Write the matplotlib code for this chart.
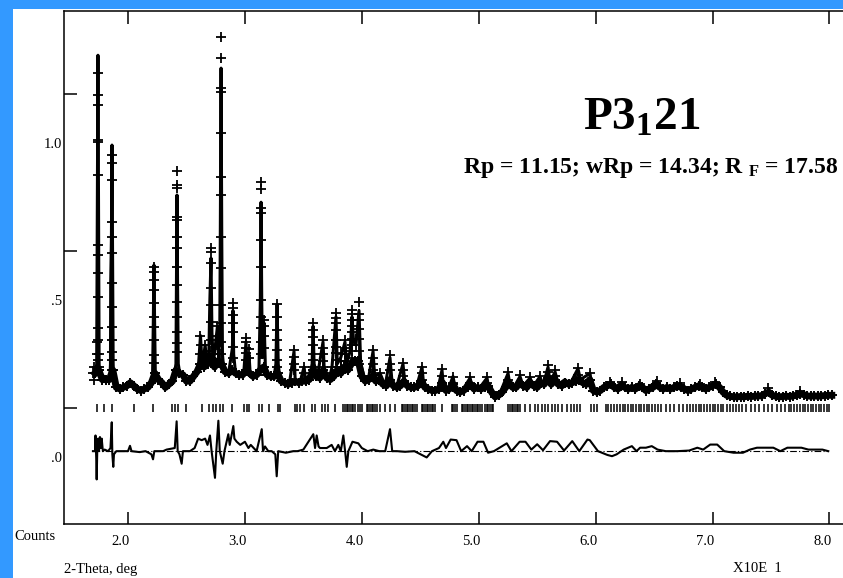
import numpy as np
import matplotlib
matplotlib.use("Agg")
import matplotlib.pyplot as plt
from matplotlib.patches import Rectangle

plt.rcParams['font.family'] = ['Liberation Serif', 'DejaVu Serif']
plt.rcParams['mathtext.fontset'] = 'custom'
# plain parts of mixed strings are drawn with mathtext.rm, the only such string is bold
plt.rcParams['mathtext.rm'] = 'Liberation Serif:bold'
plt.rcParams['mathtext.bf'] = 'Liberation Serif:bold'
plt.rcParams['mathtext.it'] = 'Liberation Serif:italic'

# observed background, one value per scan step (start 1.72, step 0.03)
scan_start, scan_step = 1.72, 0.03
bg_obs = [
    0.27, 0.28, 0.25, 0.25, 0.25, 0.28, 0.225, 0.22, 0.225, 0.23,
    0.24, 0.23, 0.22, 0.215, 0.22, 0.225, 0.24, 0.27, 0.25, 0.24,
    0.225, 0.235, 0.245, 0.28, 0.27, 0.265, 0.245, 0.245, 0.26, 0.275,
    0.30, 0.29, 0.30, 0.32, 0.29, 0.31, 0.30, 0.275, 0.27, 0.28,
    0.27, 0.265, 0.265, 0.28, 0.27, 0.26, 0.265, 0.28, 0.29, 0.265,
    0.26, 0.26, 0.27, 0.245, 0.24, 0.235, 0.24, 0.245, 0.24, 0.245,
    0.245, 0.25, 0.28, 0.26, 0.255, 0.28, 0.255, 0.25, 0.26, 0.28,
    0.27, 0.29, 0.28, 0.30, 0.31, 0.31, 0.26, 0.245, 0.25, 0.26,
    0.245, 0.25, 0.235, 0.23, 0.25, 0.23, 0.225, 0.23, 0.245, 0.23,
    0.225, 0.225, 0.23, 0.245, 0.225, 0.22, 0.215, 0.215, 0.22, 0.24,
    0.215, 0.22, 0.235, 0.215, 0.21, 0.215, 0.225, 0.235, 0.22, 0.225,
    0.22, 0.225, 0.23, 0.21, 0.195, 0.20, 0.21, 0.225, 0.24, 0.225,
    0.225, 0.24, 0.23, 0.225, 0.24, 0.23, 0.225, 0.24, 0.235, 0.255,
    0.235, 0.25, 0.235, 0.23, 0.24, 0.235, 0.24, 0.245, 0.25, 0.24,
    0.235, 0.25, 0.215, 0.21, 0.215, 0.225, 0.23, 0.235, 0.225, 0.22,
    0.23, 0.225, 0.22, 0.225, 0.22, 0.23, 0.225, 0.215, 0.22, 0.225,
    0.235, 0.225, 0.22, 0.225, 0.22, 0.225, 0.23, 0.225, 0.22, 0.215,
    0.22, 0.225, 0.23, 0.225, 0.22, 0.225, 0.23, 0.235, 0.225, 0.21,
    0.20, 0.197, 0.195, 0.195, 0.196, 0.195, 0.197, 0.196, 0.197, 0.198,
    0.198, 0.205, 0.21, 0.20, 0.197, 0.195, 0.196, 0.197, 0.196, 0.198,
    0.20, 0.205, 0.202, 0.198, 0.197, 0.198, 0.197, 0.198, 0.199, 0.20,
    0.20,
]

# observed points on the peaks
peak_obs_x = [
    1.700, 1.705, 1.710, 1.733, 1.735, 1.737,
    1.741, 1.745, 1.741, 1.745, 1.741, 1.745, 1.741, 1.745, 1.741, 1.745, 1.741, 1.745, 1.741,
    1.752, 1.755,
    1.861, 1.865, 1.861, 1.865, 1.861, 1.865, 1.861, 1.865, 1.861, 1.865, 1.861, 1.865, 1.867,
    2.220, 2.224, 2.220, 2.224, 2.220, 2.224, 2.220, 2.224, 2.220, 2.224,
    2.417, 2.421, 2.417, 2.421, 2.417, 2.421, 2.417, 2.421, 2.417, 2.421, 2.417, 2.421, 2.417, 2.421,
    2.620, 2.622, 2.618, 2.660, 2.662, 2.658,
    2.708, 2.712, 2.708, 2.712, 2.708, 2.712, 2.708, 2.712,
    2.763, 2.767, 2.763, 2.767,
    2.794, 2.798, 2.794, 2.798, 2.794, 2.798, 2.794, 2.798, 2.794, 2.798, 2.794, 2.798, 2.794,
    2.896, 2.900, 2.896, 2.900, 2.896, 2.900, 2.896,
    3.007, 3.011, 3.007, 3.011, 3.007, 3.035, 3.037,
    3.136, 3.140, 3.136, 3.140, 3.136, 3.140, 3.136, 3.140, 3.136, 3.140, 3.136,
    3.163, 3.167, 3.163, 3.167,
    3.273, 3.277, 3.273, 3.277, 3.273, 3.277, 3.273,
    3.418, 3.422, 3.418, 3.422, 3.504, 3.508,
    3.581, 3.585, 3.581, 3.585, 3.581, 3.585, 3.581,
    3.666, 3.670, 3.666, 3.670, 3.666, 3.745, 3.747,
    3.777, 3.781, 3.777, 3.781, 3.777, 3.781, 3.777, 3.781, 3.777, 3.781,
    3.820, 3.822, 3.818, 3.854, 3.858, 3.854, 3.858,
    3.914, 3.918, 3.914, 3.918, 3.914, 3.918, 3.914, 3.918, 3.914,
    3.948, 3.952,
    3.974, 3.978, 3.974, 3.978, 3.974, 3.978, 3.974,
    4.094, 4.098, 4.094, 4.098, 4.156, 4.239, 4.243, 4.239,
    4.350, 4.354, 4.350, 4.513, 4.517, 4.513, 4.684, 4.688,
    4.778, 4.782, 4.924, 4.928, 5.069, 5.073, 5.249, 5.253,
    5.353, 5.440, 5.524, 5.591, 5.595, 5.591, 5.651, 5.655,
    5.847, 5.851, 5.950, 5.954, 6.123, 6.226, 6.380, 6.525,
    6.722, 6.893, 7.021, 7.475, 7.749,
]
peak_obs_y = [
    0.27, 0.29, 0.25, 0.29, 0.33, 0.37,
    1.226, 1.156, 1.124, 1.013, 1.006, 0.901, 0.678, 0.646, 0.589, 0.513, 0.414, 0.376, 0.312,
    0.33, 0.29,
    0.965, 0.939, 0.885, 0.752, 0.704, 0.653, 0.557, 0.481, 0.417, 0.376, 0.338, 0.312, 0.28,
    0.608, 0.592, 0.567, 0.535, 0.494, 0.449, 0.417, 0.376, 0.328, 0.303,
    0.914, 0.869, 0.860, 0.768, 0.758, 0.704, 0.669, 0.608, 0.551, 0.497, 0.449, 0.401, 0.366, 0.338,
    0.39, 0.36, 0.33, 0.36, 0.33, 0.31,
    0.669, 0.656, 0.62, 0.541, 0.487, 0.433, 0.376, 0.34,
    0.42, 0.39, 0.36, 0.33,
    1.341, 1.274, 1.178, 1.166, 1.035, 0.895, 0.838, 0.704, 0.605, 0.487, 0.43, 0.37, 0.33,
    0.494, 0.478, 0.455, 0.43, 0.401, 0.354, 0.32,
    0.382, 0.369, 0.35, 0.334, 0.312, 0.347, 0.32,
    0.879, 0.857, 0.796, 0.78, 0.694, 0.608, 0.503, 0.449, 0.414, 0.37, 0.33,
    0.44, 0.42, 0.39, 0.35,
    0.49, 0.45, 0.408, 0.376, 0.344, 0.312, 0.29,
    0.344, 0.322, 0.30, 0.28, 0.29, 0.27,
    0.43, 0.408, 0.386, 0.36, 0.333, 0.312, 0.29,
    0.376, 0.35, 0.33, 0.31, 0.29, 0.29, 0.27,
    0.462, 0.446, 0.43, 0.408, 0.376, 0.354, 0.334, 0.312, 0.29, 0.271,
    0.33, 0.31, 0.29, 0.376, 0.35, 0.33, 0.31,
    0.471, 0.46, 0.44, 0.42, 0.40, 0.38, 0.36, 0.34, 0.32,
    0.38, 0.36,
    0.497, 0.46, 0.44, 0.41, 0.38, 0.34, 0.30,
    0.344, 0.32, 0.30, 0.28, 0.27, 0.328, 0.30, 0.28,
    0.303, 0.28, 0.26, 0.29, 0.27, 0.25, 0.283, 0.26,
    0.258, 0.24, 0.258, 0.24, 0.258, 0.24, 0.274, 0.25,
    0.264, 0.258, 0.26, 0.296, 0.275, 0.255, 0.28, 0.26,
    0.287, 0.265, 0.27, 0.25, 0.242, 0.242, 0.237, 0.245,
    0.238, 0.235, 0.242, 0.223, 0.213,
]

# calculated profile
calc_x = [
    1.700, 1.725, 1.732, 1.738, 1.743, 1.748, 1.753, 1.760, 1.775, 1.790, 1.800,
    1.845, 1.850, 1.852, 1.858, 1.863, 1.868, 1.873, 1.880, 1.90, 1.93, 1.96,
    1.99, 2.017, 2.04, 2.07, 2.10, 2.13, 2.16, 2.19, 2.21, 2.217, 2.222, 2.227,
    2.234, 2.25, 2.274, 2.30, 2.317, 2.34, 2.36, 2.39, 2.41, 2.414, 2.419,
    2.424, 2.43, 2.445, 2.462, 2.49, 2.513, 2.54, 2.573, 2.60, 2.62, 2.635,
    2.66, 2.675, 2.69, 2.70, 2.710, 2.718, 2.73, 2.765, 2.775, 2.785, 2.790,
    2.796, 2.802, 2.808, 2.82, 2.838, 2.86, 2.893, 2.898, 2.904, 2.92, 2.958,
    2.99, 3.009, 3.02, 3.035, 3.045, 3.08, 3.12, 3.132, 3.138, 3.144, 3.150,
    3.165, 3.175, 3.20, 3.25, 3.265, 3.275, 3.285, 3.30, 3.34, 3.38, 3.42,
    3.43, 3.47, 3.506, 3.52, 3.55, 3.575, 3.583, 3.592, 3.62, 3.668, 3.68,
    3.72, 3.745, 3.779, 3.79, 3.82, 3.856, 3.87, 3.90, 3.916, 3.93, 3.95,
    3.976, 3.99, 4.027, 4.06, 4.096, 4.11, 4.156, 4.20, 4.241, 4.26, 4.30,
    4.352, 4.37, 4.42, 4.47, 4.515, 4.53, 4.60, 4.65, 4.686, 4.70, 4.74,
    4.780, 4.80, 4.85, 4.926, 4.95, 5.00, 5.071, 5.09, 5.13, 5.18, 5.251,
    5.27, 5.30, 5.353, 5.38, 5.439, 5.47, 5.524, 5.55, 5.593, 5.61, 5.653,
    5.68, 5.738, 5.78, 5.849, 5.87, 5.952, 5.97, 6.00, 6.037, 6.08, 6.123,
    6.16, 6.226, 6.26, 6.30, 6.38, 6.43, 6.525, 6.56, 6.636, 6.722, 6.79,
    6.893, 6.95, 7.021, 7.06, 7.107, 7.15, 7.235, 7.35, 7.42, 7.475, 7.52,
    7.577, 7.65, 7.749, 7.80, 7.877, 7.95, 8.022,
]
calc_y = [
    0.27, 0.27, 0.30, 0.80, 1.283, 0.75, 0.30, 0.26, 0.25, 0.25, 0.26,
    0.25, 0.30, 0.56, 0.70, 0.997, 0.65, 0.30, 0.235, 0.225, 0.22, 0.225,
    0.23, 0.24, 0.23, 0.22, 0.215, 0.218, 0.225, 0.235, 0.26, 0.45, 0.615, 0.45,
    0.26, 0.25, 0.25, 0.235, 0.225, 0.23, 0.24, 0.25, 0.30, 0.55, 0.838,
    0.55, 0.30, 0.265, 0.27, 0.25, 0.24, 0.25, 0.265, 0.28, 0.39, 0.29,
    0.36, 0.29, 0.30, 0.50, 0.637, 0.40, 0.30, 0.42, 0.32, 0.40, 0.75,
    1.242, 0.70, 0.33, 0.28, 0.27, 0.27, 0.35, 0.47, 0.33, 0.27, 0.265,
    0.27, 0.37, 0.28, 0.33, 0.27, 0.26, 0.28, 0.50, 0.815, 0.50, 0.32,
    0.43, 0.29, 0.26, 0.26, 0.30, 0.49, 0.30, 0.25, 0.24, 0.235, 0.34,
    0.25, 0.24, 0.29, 0.245, 0.25, 0.30, 0.42, 0.30, 0.26, 0.37, 0.27,
    0.25, 0.29, 0.45, 0.30, 0.32, 0.37, 0.30, 0.34, 0.45, 0.37, 0.36,
    0.47, 0.30, 0.25, 0.26, 0.34, 0.26, 0.27, 0.23, 0.32, 0.235, 0.23,
    0.30, 0.235, 0.23, 0.23, 0.29, 0.23, 0.22, 0.22, 0.28, 0.22, 0.22,
    0.26, 0.22, 0.21, 0.255, 0.22, 0.22, 0.255, 0.215, 0.20, 0.205, 0.27,
    0.225, 0.225, 0.26, 0.23, 0.255, 0.23, 0.26, 0.23, 0.29, 0.24, 0.275,
    0.235, 0.25, 0.235, 0.285, 0.25, 0.27, 0.22, 0.21, 0.22, 0.23, 0.24,
    0.225, 0.24, 0.225, 0.22, 0.235, 0.22, 0.245, 0.225, 0.225, 0.235, 0.22,
    0.235, 0.225, 0.24, 0.225, 0.21, 0.197, 0.195, 0.197, 0.196, 0.213, 0.197,
    0.195, 0.197, 0.205, 0.198, 0.197, 0.198, 0.20,
]

# difference curve (obs - calc)
diff_x = [
    1.700, 1.718, 1.722, 1.728, 1.732, 1.738, 1.745, 1.752, 1.760, 1.768, 1.775,
    1.785, 1.80, 1.83, 1.85, 1.861, 1.866, 1.874, 1.88, 1.90, 1.946, 2.00,
    2.017, 2.03, 2.10, 2.15, 2.20, 2.214, 2.225, 2.30, 2.33, 2.40, 2.416,
    2.425, 2.44, 2.459, 2.47, 2.53, 2.57, 2.60, 2.63, 2.66, 2.68, 2.701,
    2.715, 2.744, 2.755, 2.773, 2.785, 2.81, 2.825, 2.858, 2.87, 2.901, 2.91,
    2.93, 2.96, 3.00, 3.03, 3.05, 3.10, 3.144, 3.155, 3.172, 3.20, 3.229,
    3.26, 3.272, 3.285, 3.35, 3.414, 3.45, 3.50, 3.585, 3.60, 3.614, 3.63,
    3.642, 3.70, 3.742, 3.77, 3.799, 3.82, 3.842, 3.86, 3.871, 3.885, 3.92,
    3.97, 4.00, 4.05, 4.098, 4.15, 4.20, 4.241, 4.26, 4.30, 4.37, 4.45,
    4.555, 4.60, 4.66, 4.697, 4.72, 4.76, 4.81, 4.85, 4.90, 4.94, 4.99,
    5.04, 5.08, 5.13, 5.24, 5.28, 5.35, 5.40, 5.45, 5.50, 5.55, 5.61,
    5.67, 5.73, 5.80, 5.86, 5.93, 5.95, 6.02, 6.10, 6.14, 6.18, 6.24,
    6.31, 6.35, 6.38, 6.43, 6.48, 6.53, 6.60, 6.70, 6.80, 6.87, 6.92,
    6.98, 7.04, 7.10, 7.18, 7.26, 7.32, 7.38, 7.45, 7.52, 7.58, 7.64,
    7.70, 7.76, 7.82, 7.88, 7.94, 7.99,
]
diff_y = [
    0.0, 0.0, 0.05, -0.02, -0.09, 0.02, 0.04, 0.0, 0.045, 0.01, 0.04,
    0.0, 0.005, 0.0, 0.01, 0.092, -0.01, -0.05, -0.01, 0.0, 0.0, 0.0,
    0.017, 0.0, -0.003, 0.0, -0.01, -0.026, 0.0, 0.0, 0.005, 0.01, 0.095,
    0.0, -0.01, -0.04, 0.0, 0.0, 0.01, 0.04, 0.035, 0.04, 0.02, 0.05,
    0.0, -0.085, 0.0, 0.097, 0.0, -0.04, 0.0, 0.054, 0.02, 0.08, 0.04,
    0.03, 0.02, 0.03, 0.01, 0.02, 0.0, 0.07, 0.0, 0.015, 0.0, 0.0,
    -0.01, -0.08, 0.0, -0.005, 0.0, 0.0, 0.005, 0.054, 0.01, 0.05, 0.015,
    0.01, 0.01, 0.02, 0.0, 0.02, 0.0, 0.05, -0.01, -0.05, 0.0, 0.03,
    0.025, 0.01, 0.0, 0.005, 0.0, 0.0, 0.07, 0.0, 0.0, -0.002, 0.0,
    -0.02, 0.0, 0.01, 0.03, 0.01, 0.037, 0.035, 0.0, 0.016, 0.0, 0.03,
    0.03, -0.005, 0.0, 0.025, 0.0, 0.03, 0.03, 0.005, 0.022, 0.003, 0.032,
    0.03, 0.002, 0.032, 0.0, 0.037, 0.035, 0.0, -0.012, -0.016, -0.01, 0.005,
    0.016, 0.0, 0.011, 0.011, 0.016, 0.005, 0.0, 0.0, 0.002, 0.011, 0.005,
    0.021, 0.021, 0.0, -0.005, -0.005, 0.005, 0.011, 0.011, 0.011, 0.0, 0.011,
    0.011, 0.011, 0.005, 0.005, 0.005, 0.0,
]

# reflection positions
hkl_x = [
    1.735, 1.795, 1.863, 2.051, 2.214, 2.376, 2.402, 2.428, 2.496, 2.633,
    2.693, 2.727, 2.753, 2.787, 2.813, 2.890, 2.992, 3.018, 3.035, 3.121,
    3.146, 3.206, 3.283, 3.300, 3.429, 3.446, 3.471, 3.506, 3.574, 3.600,
    3.659, 3.685, 3.711, 3.771, 3.837, 3.856, 3.871, 3.885, 3.899, 3.914,
    3.927, 3.942, 3.970, 3.985, 3.999, 4.042, 4.056, 4.070, 4.085, 4.098,
    4.113, 4.127, 4.156, 4.198, 4.241, 4.284, 4.341, 4.355, 4.370, 4.384,
    4.398, 4.412, 4.427, 4.441, 4.455, 4.470, 4.512, 4.526, 4.541, 4.555,
    4.569, 4.583, 4.598, 4.612, 4.626, 4.683, 4.769, 4.783, 4.797, 4.812,
    4.854, 4.868, 4.883, 4.897, 4.911, 4.926, 4.940, 4.954, 4.968, 4.983,
    4.997, 5.011, 5.026, 5.054, 5.068, 5.082, 5.097, 5.111, 5.125, 5.253,
    5.268, 5.282, 5.296, 5.311, 5.325, 5.339, 5.353, 5.396, 5.439, 5.482,
    5.510, 5.539, 5.567, 5.596, 5.624, 5.653, 5.681, 5.710, 5.758, 5.787,
    5.815, 5.844, 5.867, 5.961, 5.986, 6.009,
    6.09, 6.11, 6.135, 6.16, 6.18, 6.205, 6.23, 6.25, 6.275, 6.30,
    6.32, 6.345, 6.37, 6.39, 6.415, 6.44, 6.46, 6.485, 6.51, 6.53,
    6.56, 6.60, 6.635, 6.67, 6.71, 6.745, 6.78,
    6.81, 6.835, 6.86, 6.88, 6.905, 6.93, 6.95, 6.975, 7.00, 7.02,
    7.045, 7.07, 7.09, 7.125, 7.15, 7.175, 7.20, 7.225, 7.25,
    7.29, 7.33, 7.365, 7.40, 7.44, 7.475, 7.51, 7.55, 7.585, 7.62,
    7.65, 7.675, 7.70, 7.72, 7.745, 7.77, 7.79, 7.815, 7.84, 7.86,
    7.885, 7.91, 7.93, 7.955, 7.98, 8.00,
]

x_ticks = [2.0, 3.0, 4.0, 5.0, 6.0, 7.0, 8.0]
x_labels = ['2.0', '3.0', '4.0', '5.0', '6.0', '7.0', '8.0']
y_ticks = [0.16, 0.66, 1.16]
y_label_pos = [0.0, 0.5, 1.0]
y_labels = ['.0', '.5', '1.0']

hkl_level = 0.159
diff_zero = 0.022

scan_x = scan_start + scan_step * np.arange(len(bg_obs))

fig = plt.figure(figsize=(8.43, 5.78), dpi=100)
fig.patch.set_facecolor('#3399ff')
fig.add_artist(Rectangle((13 / 843, 0), 1, 1 - 9 / 578, transform=fig.transFigure,
                         facecolor='white', edgecolor='none', zorder=-5))

ax = fig.add_axes([64 / 843, 54 / 578, 1 - 64 / 843, 513 / 578])
ax.set_facecolor('none')

# observed: the scan points are so close they merge into a thick band
ax.plot(scan_x, bg_obs, color='black', lw=5, marker='+', ms=7, mew=1.4,
        solid_joinstyle='round')
ax.plot(peak_obs_x, peak_obs_y, ls='none', marker='+', ms=6.5, mew=1.3, color='black')
# calculated
ax.plot(calc_x, calc_y, color='black', lw=2.2)
# reflection ticks
ax.plot(hkl_x, [hkl_level] * len(hkl_x), ls='none', marker='|', ms=6, mew=1.1, color='black')
# difference
ax.plot(diff_x, np.array(diff_y) + diff_zero, color='black', lw=1.5)
ax.hlines(diff_zero, diff_x[0], diff_x[-1], color='black', lw=0.8, linestyles=(0, (6, 2, 1, 2)))

ax.set_xlim(1.4525, 8.116)
ax.set_ylim(-0.210, 1.424)

for side in ['left', 'top', 'bottom']:
    ax.spines[side].set_linewidth(1.1)
ax.spines['right'].set_visible(False)

ax.set_xticks(x_ticks)
ax.set_yticks(y_ticks)
ax.tick_params(axis='x', direction='in', length=9, width=1.1, top=True,
               labelbottom=False)
ax.tick_params(axis='y', direction='in', length=9, width=1.1, right=False,
               labelleft=False)

for xv, lab in zip(x_ticks, x_labels):
    ax.annotate(lab, xy=(xv, 0), xycoords=('data', 'axes fraction'),
                xytext=(1.5, -12.5), textcoords='offset points',
                ha='right', va='center', fontsize=10.5)
for yv, lab in zip(y_label_pos, y_labels):
    ax.annotate(lab, xy=(0, yv), xycoords=('axes fraction', 'data'),
                xytext=(-1.5, 0), textcoords='offset points',
                ha='right', va='center', fontsize=10.5)

fig.text(14 / 843, 1 - 537 / 578, 'Counts', ha='left', va='center', fontsize=10.5)
fig.text(64 / 843, 1 - 570 / 578, '2-Theta, deg', ha='left', va='center', fontsize=10.5)
fig.text(733 / 843, 1 - 568 / 578, 'X10E  1', ha='left', va='center', fontsize=10.5)

fig.text(642 / 843, 1 - 118 / 578, r'$\mathbf{P3_{1}21}$', ha='center', va='center',
         fontsize=34)
fig.text(838 / 843, 1 - 168 / 578, r'Rp = 11.15; wRp = 14.34; R ${}_{\mathbf{F}}$ = 17.58',
         ha='right', va='center', fontsize=17, fontweight='bold')

fig.savefig('out.png', dpi=100)
